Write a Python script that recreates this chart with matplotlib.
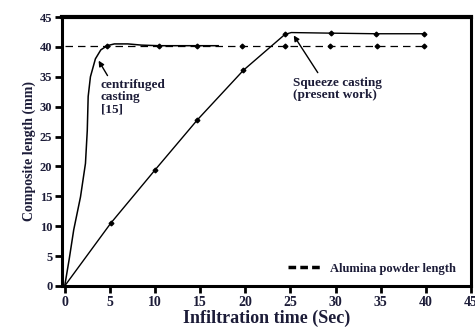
import matplotlib
matplotlib.use('Agg')
import matplotlib.pyplot as plt
from matplotlib.lines import Line2D

# centrifuged casting [15] curve
cent_x = [0, 0.5, 1.0, 1.75, 2.3, 2.5, 2.6, 2.85, 3.4, 4.0, 4.7, 5.5, 7.0, 8.5, 10.4, 14.6, 17.0]
cent_y = [0, 4.5, 9.4, 14.9, 20.5, 26.0, 31.7, 35.0, 38.0, 39.5, 40.2, 40.5, 40.5, 40.3, 40.2, 40.2, 40.2]
cent_mark_x = [4.7, 10.4, 14.6, 19.6, 24.4, 29.4, 34.6, 39.8]
cent_mark_y = [40.2, 40.2, 40.2, 40.2, 40.2, 40.2, 40.2, 40.2]

# squeeze casting (present work)
sq_x = [0, 5.1, 10.0, 14.7, 19.8, 24.4, 25.1, 29.5, 34.5, 39.8]
sq_y = [0, 10.5, 19.4, 27.8, 36.1, 42.1, 42.4, 42.3, 42.2, 42.2]
sq_marks = [1, 2, 3, 4, 5, 7, 8, 9]

# alumina powder length
alu_x = [0, 39.8]
alu_y = [40.1, 40.1]

xticks = [0, 5, 10, 15, 20, 25, 30, 35, 40, 45]
yticks = [0, 5, 10, 15, 20, 25, 30, 35, 40, 45]

txt = '#1c1c38'
plt.rcParams['font.family'] = ['Liberation Serif', 'DejaVu Serif']
plt.rcParams['font.weight'] = 'bold'
plt.rcParams['axes.labelweight'] = 'bold'

fig = plt.figure(figsize=(4.75, 3.31), dpi=100)
ax = fig.add_axes([0.1305, 0.136, 0.861, 0.8126])

ax.plot(alu_x, alu_y, color='k', lw=0.9, ls=(0, (6, 4)))
ax.plot(cent_x, cent_y, color='k', lw=1.1)
ax.plot(cent_mark_x, cent_mark_y, ls='none', marker='D', ms=2.4, color='k')
ax.plot(sq_x, sq_y, color='k', lw=1.0, marker='D', ms=2.4, markevery=sq_marks)

ax.text(4.0, 34.7, 'centrifuged\ncasting\n[15]', ha='left', va='top',
        fontsize=9.5, color=txt, linespacing=1.05, fontweight='bold')
ax.annotate('', xy=(3.6, 38.1), xytext=(4.9, 34.8),
            arrowprops=dict(arrowstyle='-|>', lw=1.0, color='k', mutation_scale=8))
ax.text(25.3, 35.0, 'Squeeze casting\n(present work)', ha='left', va='top',
        fontsize=9.5, color=txt, linespacing=1.05, fontweight='bold')
ax.annotate('', xy=(25.2, 42.3), xytext=(28.2, 35.3),
            arrowprops=dict(arrowstyle='-|>', lw=1.0, color='k', mutation_scale=8))

handle = Line2D([], [], color='k', lw=2.5, ls=(0, (2.2, 1.2)))
ax.legend([handle], ['Alumina powder length'], loc='lower right',
          bbox_to_anchor=(0.99, 0.0), frameon=False, handlelength=2.8,
          handletextpad=0.5, prop={'size': 9, 'weight': 'bold'}, labelcolor=txt)

ax.set_xlim(-0.3, 45)
ax.set_ylim(0, 45)
ax.set_xticks(xticks)
ax.set_xticklabels([str(t) for t in xticks], fontweight='bold', fontsize=10)
ax.set_yticks(yticks)
ax.set_yticklabels([str(t) for t in yticks], fontweight='bold', fontsize=9)
ax.tick_params(direction='out', length=5, width=2, labelcolor=txt, pad=2)
for s in ax.spines.values():
    s.set_linewidth(2.2)
ax.spines['top'].set_linewidth(3)

ax.set_xlabel('Infiltration time (Sec)', fontsize=13, color=txt, labelpad=1, fontweight='bold')
ax.set_ylabel('Composite length (mm)', fontsize=10, color=txt, labelpad=3, fontweight='bold')

fig.savefig('out.png', dpi=100)
